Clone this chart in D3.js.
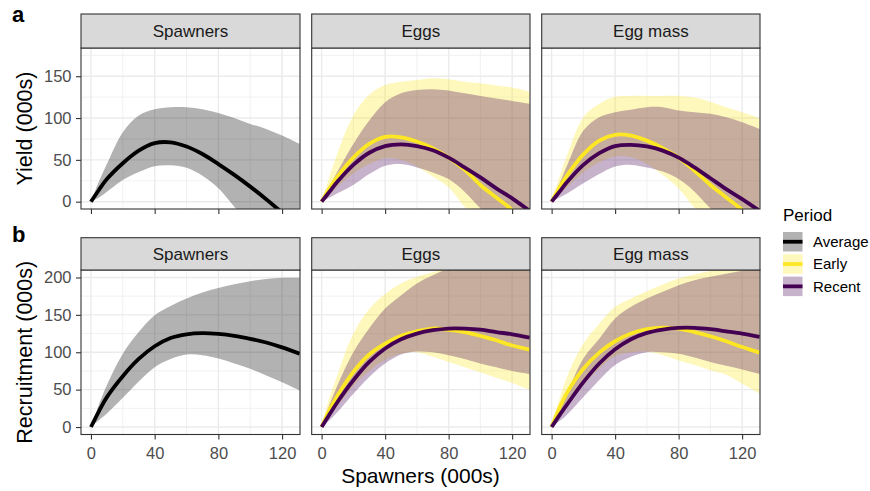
<!DOCTYPE html>
<html><head><meta charset="utf-8">
<script src="https://cdn.jsdelivr.net/npm/d3@7/dist/d3.min.js"></script>
<style>
body{margin:0;background:#fff}
svg{display:block}
text{font-family:"Liberation Sans",Arial,Helvetica,sans-serif}
</style>
</head><body>
<svg id="chart" width="870" height="491"></svg>
<script>
// ---------------- data ----------------
const spawners = [0,5,10,20,30,40,50,60,70,80,90,100,110,120,131];
const facets = ["Spawners","Eggs","Egg mass"];
const periods = ["Average","Early","Recent"];
const xTicks = [0,40,80,120];
const xMinor = [20,60,100];
const yTicksYield = [0,50,100,150];
const yMinorYield = [25,75,125,175];
const yTicksRecruit = [0,50,100,150,200];
const yMinorRecruit = [25,75,125,175];

// Row a: Yield (000s)
const yieldSpawnersMean = [0,14,27,46,61,70,71,66,57,45,32,18,3,-13,-31];
const yieldSpawnersLo   = [0,5,12,26,35.5,42.5,43.5,40.5,31,16,-6,-28,-45,-62,-80];
const yieldSpawnersHi   = [0,24,45,83,103,110.5,113,113,110.5,106,100,93,87,79,69];

const yieldEggsEarlyMean  = [0,16,30,52.6,69,77.5,77,72,64,52.6,38.5,20,5,-10,-33];
const yieldEggsEarlyLo    = [0,9,18,34,45,52,50,42,30,17,-6,-25,-45,-65,-85];
const yieldEggsEarlyHi    = [0,30,58,103,128,139.5,143.5,145.5,147.5,146.5,143.5,141.5,139,136.5,131.5];
const yieldEggsRecentMean = [0,12,24,44,58.5,66.5,68.5,66.5,61.5,52.6,41,29,16,4,-11];
const yieldEggsRecentLo   = [0,5,10,20,33,43,45,41,35,27,12,-8,-25,-45,-65];
const yieldEggsRecentHi   = [0,18,36,69,97,119,129.5,133.5,134.5,133,129.5,126.5,123.5,120.5,117];

const yieldMassEarlyMean  = [0,17,32,56.5,73,80,79,73,64,52.6,37,20,5,-10,-30];
const yieldMassEarlyLo    = [0,9,18,35,47,54,53,45,32,16,-8,-28,-48,-68,-88];
const yieldMassEarlyHi    = [0,30,57,101,117,125.5,126.5,126.5,126.5,126.5,124.5,119.5,113,107,100];
const yieldMassRecentMean = [0,12,24,44,58,66.5,68,66,61,52.6,41,28,15,3,-11];
const yieldMassRecentLo   = [0,5,10,22,33,42,44,41,36,27,12,-8,-25,-45,-65];
const yieldMassRecentHi   = [0,22,44.5,85,101,107,110,113,113,109,107,105,101,95,87];

// Row b: Recruitment (000s)
const recSpawnersMean = [0,21,40,68,91,108,119,124,125.5,124.5,122,118,113,106.5,98];
const recSpawnersLo   = [0,9,18,39,61,80,91,97,96,91.5,85,78,69,60,49];
const recSpawnersHi   = [0,30,56,98,127,149.5,162,172,180,186,191,195,198,199.5,199.5];

const recEggsEarlyMean  = [0,23,42,73.7,97,111.6,122,128,131.7,130,127,122,116,109,103.6];
const recEggsEarlyLo    = [0,14,28,55,75,90,98,100,94,87,80,73,66,59,50];
const recEggsEarlyHi    = [0,40,70,125,158,178,192,201,207,213,219,224,228,232,236];
const recEggsRecentMean = [0,17,33.5,62.5,87,105,117.4,125,129.5,131.7,131.7,130.4,127,124,119.6];
const recEggsRecentLo   = [0,9,20,44.6,67,85,97,101,100,96,91,85,80,75,71];
const recEggsRecentHi   = [0,30,56,100,132,158.5,176,192,203,212,218,224,229,234,238];

const recMassEarlyMean  = [0,26,47,78,99.5,114.7,125,130.8,133,131.7,127,121.4,114.7,107,99.5];
const recMassEarlyLo    = [0,14,28,56,78,95,100,101,96,89,83,76,70,58,45];
const recMassEarlyHi    = [0,38,69,111.6,138,160.7,172,181.7,190.6,198.7,204,208.5,212,216,220];
const recMassRecentMean = [0,16,31,60,85,104,117.4,126,130.4,132.6,132.6,130.8,128,125,120.5];
const recMassRecentLo   = [0,8,17,40,63,83,94,100,100,98,93,87,82,77,71];
const recMassRecentHi   = [0,25,47,91.5,118,145,160.7,172,181,189.7,196.4,201,205,209,212];

// ---------------- assembly ----------------
const panelSeries = [
  [ [{p:"Average", m:yieldSpawnersMean, lo:yieldSpawnersLo, hi:yieldSpawnersHi}],
    [{p:"Early", m:yieldEggsEarlyMean, lo:yieldEggsEarlyLo, hi:yieldEggsEarlyHi},
     {p:"Recent", m:yieldEggsRecentMean, lo:yieldEggsRecentLo, hi:yieldEggsRecentHi}],
    [{p:"Early", m:yieldMassEarlyMean, lo:yieldMassEarlyLo, hi:yieldMassEarlyHi},
     {p:"Recent", m:yieldMassRecentMean, lo:yieldMassRecentLo, hi:yieldMassRecentHi}] ],
  [ [{p:"Average", m:recSpawnersMean, lo:recSpawnersLo, hi:recSpawnersHi}],
    [{p:"Early", m:recEggsEarlyMean, lo:recEggsEarlyLo, hi:recEggsEarlyHi},
     {p:"Recent", m:recEggsRecentMean, lo:recEggsRecentLo, hi:recEggsRecentHi}],
    [{p:"Early", m:recMassEarlyMean, lo:recMassEarlyLo, hi:recMassEarlyHi},
     {p:"Recent", m:recMassRecentMean, lo:recMassRecentLo, hi:recMassRecentHi}] ]
];

const lineColor = {Average:"#000000", Early:"#FDE725", Recent:"#440154"};
const fillAlpha = 0.3;

// ---------------- layout ----------------
const svg = d3.select("#chart");
const colX = [[81,300],[311.7,530],[541.7,760]];
const rows = [
  {tag:"a", tagY:22, stripTop:14, top:48, bottom:209, domain:[-8.75,183.75], ticks:yTicksYield, minor:yMinorYield, title:"Yield (000s)", labels:false},
  {tag:"b", tagY:242, stripTop:237.7, top:270, bottom:434.5, domain:[-10,210], ticks:yTicksRecruit, minor:yMinorRecruit, title:"Recruitment (000s)", labels:true}
];
const xDomain = [-6.25,131.25];
const tickCol = "#333333", tickTextCol = "#4d4d4d", gridCol = "#ebebeb";
const curve = d3.curveCatmullRom.alpha(0.5);

let clipId = 0;
rows.forEach((row, ri) => {
  const y = d3.scaleLinear().domain(row.domain).range([row.bottom, row.top]);
  colX.forEach((cx, ci) => {
    const x = d3.scaleLinear().domain(xDomain).range(cx);
    const g = svg.append("g");
    g.append("rect").attr("x",cx[0]).attr("y",row.top).attr("width",cx[1]-cx[0]).attr("height",row.bottom-row.top).attr("fill","#fff");
    xMinor.forEach(v => g.append("line").attr("x1",x(v)).attr("x2",x(v)).attr("y1",row.top).attr("y2",row.bottom).attr("stroke",gridCol).attr("stroke-width",0.7));
    row.minor.forEach(v => g.append("line").attr("y1",y(v)).attr("y2",y(v)).attr("x1",cx[0]).attr("x2",cx[1]).attr("stroke",gridCol).attr("stroke-width",0.7));
    xTicks.forEach(v => g.append("line").attr("x1",x(v)).attr("x2",x(v)).attr("y1",row.top).attr("y2",row.bottom).attr("stroke",gridCol).attr("stroke-width",1.4));
    row.ticks.forEach(v => g.append("line").attr("y1",y(v)).attr("y2",y(v)).attr("x1",cx[0]).attr("x2",cx[1]).attr("stroke",gridCol).attr("stroke-width",1.4));

    const id = "clip"+(clipId++);
    svg.append("clipPath").attr("id",id).append("rect")
      .attr("x",cx[0]).attr("y",row.top).attr("width",cx[1]-cx[0]).attr("height",row.bottom-row.top);
    const pg = g.append("g").attr("clip-path",`url(#${id})`);

    const series = panelSeries[ri][ci];
    const area = d3.area().x((d,i)=>x(spawners[i])).y0(d=>y(d[0])).y1(d=>y(d[1])).curve(curve);
    const line = d3.line().x((d,i)=>x(spawners[i])).y(d=>y(d)).curve(curve);
    series.forEach(s => {
      const pts = s.lo.map((v,i)=>[v, s.hi[i]]);
      pg.append("path").attr("d",area(pts)).attr("fill",lineColor[s.p]).attr("fill-opacity",fillAlpha);
    });
    series.forEach(s => {
      pg.append("path").attr("d",line(s.m)).attr("fill","none").attr("stroke",lineColor[s.p]).attr("stroke-width",3.8);
    });

    g.append("rect").attr("x",cx[0]).attr("y",row.top).attr("width",cx[1]-cx[0]).attr("height",row.bottom-row.top)
      .attr("fill","none").attr("stroke",tickCol).attr("stroke-width",1.1);
    g.append("rect").attr("x",cx[0]).attr("y",row.stripTop).attr("width",cx[1]-cx[0]).attr("height",row.top-row.stripTop)
      .attr("fill","#d9d9d9").attr("stroke",tickCol).attr("stroke-width",1.1);
    g.append("text").attr("x",(cx[0]+cx[1])/2).attr("y",(row.stripTop+row.top)/2).attr("dy","0.35em")
      .attr("text-anchor","middle").attr("font-size","17px").attr("fill","#1a1a1a").text(facets[ci]);

    const xa = d3.axisBottom(x).tickValues(xTicks).tickSize(5).tickPadding(8)
      .tickFormat(row.labels ? d3.format("d") : () => "");
    const xg = svg.append("g").attr("transform",`translate(0,${row.bottom})`).call(xa);
    xg.select(".domain").remove();
    xg.selectAll(".tick line").attr("stroke",tickCol).attr("stroke-width",1.1);
    xg.selectAll(".tick text").attr("fill",tickTextCol).attr("font-size","16.5px").attr("font-family","Liberation Sans, Arial, sans-serif");

    if (ci === 0) {
      const ya = d3.axisLeft(y).tickValues(row.ticks).tickSize(5).tickPadding(4.5).tickFormat(d3.format("d"));
      const yg = svg.append("g").attr("transform",`translate(${cx[0]},0)`).call(ya);
      yg.select(".domain").remove();
      yg.selectAll(".tick line").attr("stroke",tickCol).attr("stroke-width",1.1);
      yg.selectAll(".tick text").attr("fill",tickTextCol).attr("font-size","16.5px").attr("font-family","Liberation Sans, Arial, sans-serif");
    }
  });
  const cy = (row.top+row.bottom)/2;
  svg.append("text").attr("transform",`translate(31.5,${cy}) rotate(-90)`).attr("text-anchor","middle")
    .attr("font-size","21.5px").attr("fill","#000").text(row.title);
  svg.append("text").attr("x",12).attr("y",row.tagY).attr("font-size","22px").attr("font-weight","bold").attr("fill","#000").text(row.tag);
});

svg.append("text").attr("x",(colX[0][0]+colX[2][1])/2).attr("y",483).attr("text-anchor","middle")
  .attr("font-size","21px").attr("fill","#000").text("Spawners (000s)");

const lg = svg.append("g");
lg.append("text").attr("x",783).attr("y",220.5).attr("font-size","17px").attr("fill","#000").text("Period");
periods.forEach((p,i) => {
  const ky = 232 + i*22.3;
  lg.append("rect").attr("x",783).attr("y",ky).attr("width",19.5).attr("height",19.5).attr("fill","#fff");
  lg.append("rect").attr("x",783).attr("y",ky).attr("width",19.5).attr("height",19.5).attr("fill",lineColor[p]).attr("fill-opacity",fillAlpha);
  lg.append("line").attr("x1",783).attr("x2",802.5).attr("y1",ky+9.75).attr("y2",ky+9.75).attr("stroke",lineColor[p]).attr("stroke-width",3.8);
  lg.append("text").attr("x",813).attr("y",ky+9.75).attr("dy","0.35em").attr("font-size","15px").attr("fill","#000").text(p);
});
</script>
</body></html>
